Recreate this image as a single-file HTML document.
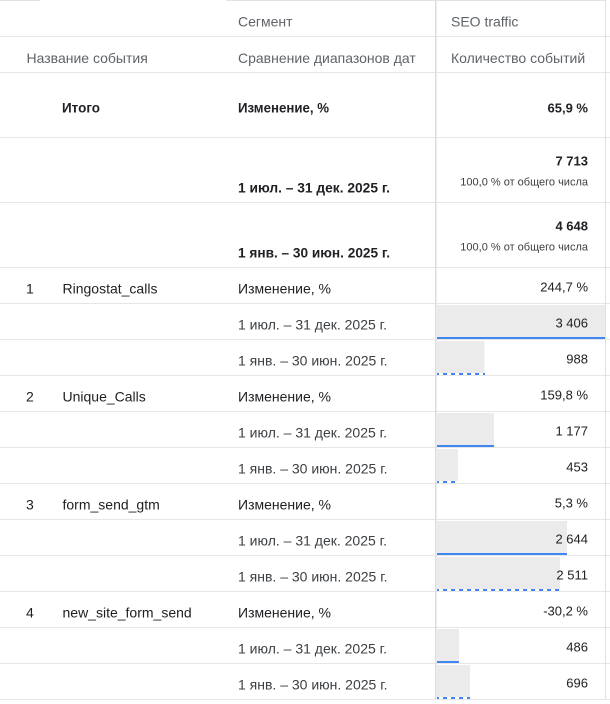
<!DOCTYPE html>
<html><head><meta charset="utf-8"><style>
html,body{margin:0;padding:0;background:#fff;}
svg{display:block;}
text{font-family:"Liberation Sans","Noto Sans CJK SC",sans-serif;}
.h{font-size:14px;fill:#5f6368;}
.t{font-size:14px;fill:#202124;}
.d{font-size:14px;fill:#3c4043;}
.n{font-size:13px;fill:#202124;}
.s{font-size:11px;fill:#3c4043;}
.b{font-weight:bold;}
</style></head><body>
<svg width="610" height="704" viewBox="0 0 610 704" xmlns="http://www.w3.org/2000/svg">
<rect x="0" y="0" width="610" height="704" fill="#fff"/>
<!-- top artifacts -->
<rect x="0" y="0" width="40" height="1" fill="#e3e3e3"/>
<rect x="226" y="0" width="380" height="1" fill="#e3e3e3"/>
<!-- horizontal lines -->
<g fill="#e6e6e6">
<rect x="0" y="36" width="610" height="1"/>
<rect x="0" y="72" width="610" height="1"/>
<rect x="0" y="137" width="610" height="1"/>
<rect x="0" y="202" width="610" height="1"/>
<rect x="0" y="267" width="610" height="1"/>
<rect x="0" y="303" width="610" height="1"/>
<rect x="0" y="339" width="610" height="1"/>
<rect x="0" y="375" width="610" height="1"/>
<rect x="0" y="411" width="610" height="1"/>
<rect x="0" y="447" width="610" height="1"/>
<rect x="0" y="483" width="610" height="1"/>
<rect x="0" y="519" width="610" height="1"/>
<rect x="0" y="555" width="610" height="1"/>
<rect x="0" y="591" width="610" height="1"/>
<rect x="0" y="627" width="610" height="1"/>
<rect x="0" y="663" width="610" height="1"/>
<rect x="0" y="699" width="610" height="1"/>
</g>
<!-- vertical lines -->
<rect x="435" y="1" width="1.5" height="698" fill="#dcdcdc"/>
<rect x="605" y="1" width="1" height="698" fill="#e0e0e0"/>

<!-- bars -->
<g fill="#ebebeb">
<rect x="437" y="305" width="168" height="32"/>
<rect x="437" y="341" width="47.5" height="32"/>
<rect x="437" y="413" width="57" height="32"/>
<rect x="437" y="449" width="21" height="32"/>
<rect x="437" y="521" width="130" height="32"/>
<rect x="437" y="557" width="123" height="32"/>
<rect x="437" y="629" width="22" height="32"/>
<rect x="437" y="665" width="33" height="32"/>
</g>
<g fill="#4285f4">
<rect x="437" y="337" width="168" height="2"/>
<rect x="437" y="445" width="57" height="2"/>
<rect x="437" y="553" width="130" height="2"/>
<rect x="437" y="661" width="22" height="2"/>
</g>
<g stroke="#4285f4" stroke-width="2" stroke-dasharray="4 4" stroke-dashoffset="2">
<line x1="437" y1="374" x2="485" y2="374"/>
<line x1="437" y1="482" x2="458" y2="482"/>
<line x1="437" y1="590" x2="561" y2="590"/>
<line x1="437" y1="698" x2="470" y2="698"/>
</g>

<!-- headers -->
<text class="h" x="238" y="26.5">Сегмент</text>
<text class="h" x="451" y="26.5">SEO traffic</text>
<text class="h" x="26.5" y="63">Название события</text>
<text class="h" x="238" y="63">Сравнение диапазонов дат</text>
<text class="h" x="451" y="63">Количество событий</text>

<!-- Итого -->
<text class="t b" x="62" y="112.3" textLength="38" lengthAdjust="spacingAndGlyphs">Итого</text>
<text class="t b" x="238" y="112.3" textLength="91" lengthAdjust="spacingAndGlyphs">Изменение, %</text>
<text class="n b" x="588" y="112.3" text-anchor="end">65,9 %</text>

<text class="n b" x="588" y="165.7" text-anchor="end">7 713</text>
<text class="s" x="588" y="185.7" text-anchor="end">100,0 % от общего числа</text>
<text class="t b" x="238" y="192.3" textLength="152" lengthAdjust="spacingAndGlyphs">1 июл. – 31 дек. 2025 г.</text>

<text class="n b" x="588" y="230.7" text-anchor="end">4 648</text>
<text class="s" x="588" y="250.7" text-anchor="end">100,0 % от общего числа</text>
<text class="t b" x="238" y="257.3" textLength="152" lengthAdjust="spacingAndGlyphs">1 янв. – 30 июн. 2025 г.</text>

<!-- group 1 -->
<text class="t" x="26" y="293.3">1</text>
<text class="t" x="62.5" y="293.3">Ringostat_calls</text>
<text class="t" x="238" y="293.3">Изменение, %</text>
<text class="n" x="588" y="291.3" text-anchor="end">244,7 %</text>
<text class="d" x="238" y="329.3">1 июл. – 31 дек. 2025 г.</text>
<text class="n" x="588" y="327.3" text-anchor="end">3 406</text>
<text class="d" x="238" y="365.3">1 янв. – 30 июн. 2025 г.</text>
<text class="n" x="588" y="363.3" text-anchor="end">988</text>

<!-- group 2 -->
<text class="t" x="26" y="401.3">2</text>
<text class="t" x="62.5" y="401.3">Unique_Calls</text>
<text class="t" x="238" y="401.3">Изменение, %</text>
<text class="n" x="588" y="399.3" text-anchor="end">159,8 %</text>
<text class="d" x="238" y="437.3">1 июл. – 31 дек. 2025 г.</text>
<text class="n" x="588" y="435.3" text-anchor="end">1 177</text>
<text class="d" x="238" y="473.3">1 янв. – 30 июн. 2025 г.</text>
<text class="n" x="588" y="471.3" text-anchor="end">453</text>

<!-- group 3 -->
<text class="t" x="26" y="509.3">3</text>
<text class="t" x="62.5" y="509.3">form_send_gtm</text>
<text class="t" x="238" y="509.3">Изменение, %</text>
<text class="n" x="588" y="507.3" text-anchor="end">5,3 %</text>
<text class="d" x="238" y="545.3">1 июл. – 31 дек. 2025 г.</text>
<text class="n" x="588" y="543.3" text-anchor="end">2 644</text>
<text class="d" x="238" y="581.3">1 янв. – 30 июн. 2025 г.</text>
<text class="n" x="588" y="579.3" text-anchor="end">2 511</text>

<!-- group 4 -->
<text class="t" x="26" y="617.3">4</text>
<text class="t" x="62.5" y="617.3">new_site_form_send</text>
<text class="t" x="238" y="617.3">Изменение, %</text>
<text class="n" x="588" y="615.3" text-anchor="end">-30,2 %</text>
<text class="d" x="238" y="653.3">1 июл. – 31 дек. 2025 г.</text>
<text class="n" x="588" y="651.3" text-anchor="end">486</text>
<text class="d" x="238" y="689.3">1 янв. – 30 июн. 2025 г.</text>
<text class="n" x="588" y="687.3" text-anchor="end">696</text>
</svg>
</body></html>
